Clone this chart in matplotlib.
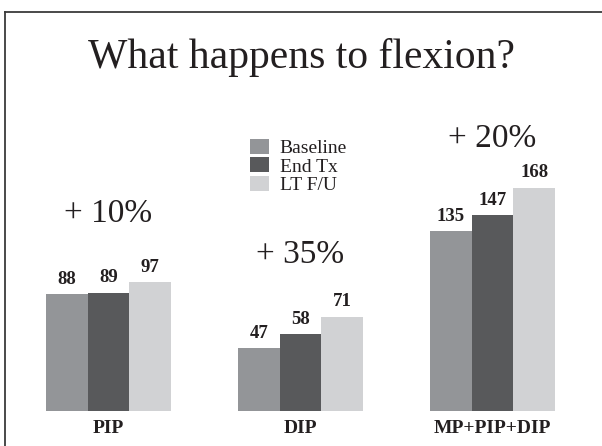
import matplotlib
matplotlib.use("Agg")
import matplotlib.pyplot as plt
from matplotlib.lines import Line2D
import numpy as np

categories = ["PIP", "DIP", "MP+PIP+DIP"]
series_names = ["Baseline", "End Tx", "LT F/U"]
baseline = [88, 47, 135]
end_tx = [89, 58, 147]
lt_fu = [97, 71, 168]
changes = ["+ 10%", "+ 35%", "+ 20%"]
title = "What happens to flexion?"

colors = ["#939598", "#58595b", "#d1d2d4"]
txt = "#231f20"
W, H = 602, 446
plt.rcParams["font.family"] = ["Liberation Serif", "DejaVu Serif"]

fig = plt.figure(figsize=(W / 100, H / 100), dpi=100)
fig.patch.set_facecolor("white")

def fy(py):
    return 1 - py / H

# axes: baseline at pixel y=411, 1.33 px per unit; group spacing 192 px
ax = fig.add_axes([0, (H - 411) / H, 1, 411 / H])
ax.set_ylim(0, 411 / 1.33)
ax.set_xlim(-108.5 / 192, (W - 108.5) / 192)
ax.axis("off")

x = np.arange(len(categories))
bw = 41.7 / 192
series = [baseline, end_tx, lt_fu]
for i, (vals, name, col) in enumerate(zip(series, series_names, colors)):
    bars = ax.bar(x + (i - 1) * bw, vals, width=bw, color=col, label=name, linewidth=0)
    for b, v in zip(bars, vals):
        ax.annotate(str(v), (b.get_x() + b.get_width() / 2, v), xytext=(0, 4.5),
                    textcoords="offset points", ha="center", va="bottom",
                    fontsize=13.5, fontweight="bold", color=txt)

# category labels
for xi, c in zip(x, categories):
    ax.annotate(c, (xi, 0), xytext=(0, -15.5), textcoords="offset points",
                ha="center", va="baseline", fontsize=14, fontweight="bold", color=txt)

# percentage annotations (pixel baselines)
pct_baselines = [222, 263, 147]
for xi, c, py in zip(x, changes, pct_baselines):
    ax.text(xi, (411 - py) / 1.33, c, ha="center", va="baseline", fontsize=24, color=txt)

fig.text(301 / W, fy(68), title, ha="center", va="baseline", fontsize=30, color=txt)

leg = fig.legend(loc="upper left", bbox_to_anchor=(250 / W, fy(139)), frameon=False,
                 fontsize=14, handlelength=19 / 19.44, handleheight=16 / 19.44,
                 handletextpad=0.55, labelspacing=0.0, borderpad=0, borderaxespad=0)
for t in leg.get_texts():
    t.set_color(txt)

# frame lines (top and left)
fig.add_artist(Line2D([5 / W, 1], [fy(12), fy(12)], transform=fig.transFigure,
                      color="#3a3a3a", linewidth=1.3))
fig.add_artist(Line2D([5 / W, 5 / W], [fy(12), 0], transform=fig.transFigure,
                      color="#3a3a3a", linewidth=1.3))

fig.savefig("out.png", dpi=100, facecolor="white")
